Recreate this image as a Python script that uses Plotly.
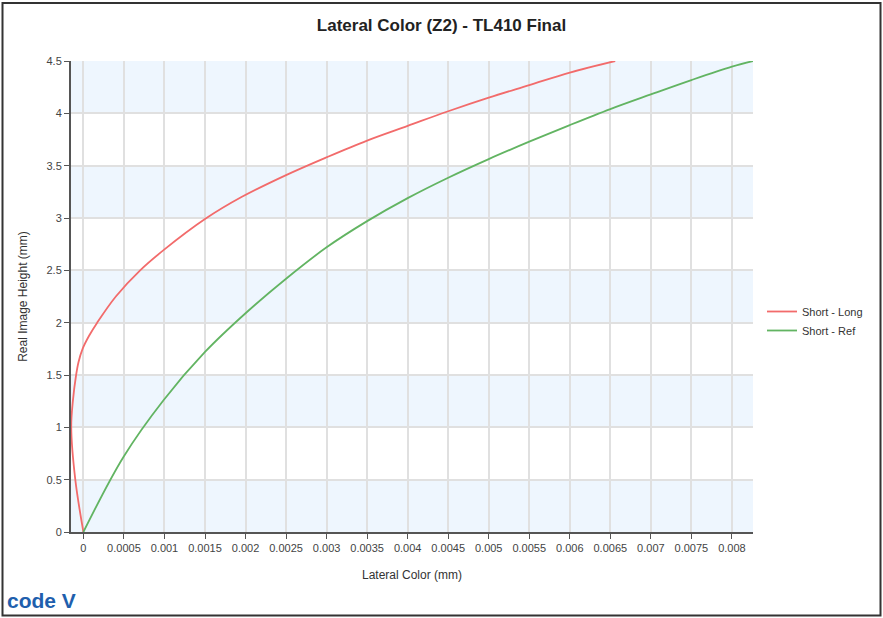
import plotly.graph_objects as go

# ---- data ----
short_long_x = [0, -0.0001, -0.00015, -0.00013, -0.00009, -0.00006, -0.00001, 0.00007, 0.00017,
                0.0004, 0.0007, 0.001, 0.0015, 0.00195, 0.0025, 0.003, 0.0035, 0.004, 0.0045,
                0.005, 0.0055, 0.006, 0.00656]
short_long_y = [0, 0.5, 1.0, 1.25, 1.5, 1.625, 1.75, 1.875, 2.0,
                2.25, 2.5, 2.7, 2.99, 3.2, 3.41, 3.58, 3.74, 3.88, 4.02,
                4.15, 4.27, 4.39, 4.5]

short_ref_x = [0, 0.000494, 0.000988, 0.0015, 0.002, 0.0025, 0.003, 0.0035, 0.004, 0.0045,
               0.005, 0.0055, 0.006, 0.0065, 0.007, 0.0075, 0.008, 0.00826]
short_ref_y = [0, 0.717, 1.259, 1.72, 2.09, 2.42, 2.72, 2.97, 3.19, 3.385,
               3.563, 3.729, 3.888, 4.041, 4.181, 4.318, 4.446, 4.5]

x_tickvals = [0, 0.0005, 0.001, 0.0015, 0.002, 0.0025, 0.003, 0.0035, 0.004, 0.0045,
              0.005, 0.0055, 0.006, 0.0065, 0.007, 0.0075, 0.008]
x_ticktext = ["0", "0.0005", "0.001", "0.0015", "0.002", "0.0025", "0.003", "0.0035", "0.004",
              "0.0045", "0.005", "0.0055", "0.006", "0.0065", "0.007", "0.0075", "0.008"]
y_tickvals = [0, 0.5, 1, 1.5, 2, 2.5, 3, 3.5, 4, 4.5]
y_ticktext = ["0", "0.5", "1", "1.5", "2", "2.5", "3", "3.5", "4", "4.5"]
band_starts = [0, 1, 2, 3, 4]

X_RANGE = [-0.000153, 0.00826]
Y_RANGE = [0, 4.5]

W, H = 898, 618
ML, MR, MT, MB = 71, 145, 61, 86

fig = go.Figure()
fig.add_trace(go.Scatter(x=short_long_x, y=short_long_y, mode="lines", name="Short - Long",
                         line=dict(color="#F26B6B", width=1.8, shape="spline", smoothing=1.0)))
fig.add_trace(go.Scatter(x=short_ref_x, y=short_ref_y, mode="lines", name="Short - Ref",
                         line=dict(color="#62B462", width=1.8, shape="spline", smoothing=1.0)))

shapes = []
for b in band_starts:
    shapes.append(dict(type="rect", xref="x", yref="y", x0=X_RANGE[0], x1=X_RANGE[1],
                       y0=b, y1=b + 0.5, fillcolor="#EEF6FE", line=dict(width=0), layer="below"))

pw = W - ML - MR
ph = H - MT - MB
def px2paper_x(p):
    return (p - ML) / pw
def py2paper_y(p):
    return (H - MB - p) / ph

# outer frame
shapes.append(dict(type="rect", xref="paper", yref="paper",
                   x0=px2paper_x(2.5), x1=px2paper_x(880.5),
                   y0=py2paper_y(615.5), y1=py2paper_y(3),
                   line=dict(color="#333333", width=2), fillcolor="rgba(0,0,0,0)", layer="above"))

fig.update_layout(
    width=W, height=H, autosize=False,
    margin=dict(l=ML, r=MR, t=MT, b=MB),
    paper_bgcolor="white", plot_bgcolor="rgba(0,0,0,0)",
    title=dict(text="<b>Lateral Color (Z2) - TL410 Final</b>", x=px2paper_x(441.5), xref="paper",
               xanchor="center", y=1 - 25 / H, yanchor="middle",
               font=dict(family="Liberation Sans, Arial", size=17, color="#222222")),
    font=dict(family="Liberation Sans, Arial", size=11, color="#444444"),
    shapes=shapes,
    showlegend=True,
    legend=dict(x=px2paper_x(762), y=py2paper_y(297), xanchor="left", yanchor="top",
                font=dict(size=11, color="#333333"), bgcolor="rgba(0,0,0,0)",
                itemwidth=30, tracegroupgap=2),
    annotations=[dict(text="<b>code V</b>", xref="paper", yref="paper",
                      x=px2paper_x(5), y=py2paper_y(600), xanchor="left", yanchor="middle",
                      showarrow=False,
                      font=dict(family="Liberation Sans Narrow, Liberation Sans, Arial",
                                size=21, color="#1F5FAD"))],
)

fig.update_xaxes(range=X_RANGE, tickvals=x_tickvals, ticktext=x_ticktext,
                 showgrid=True, gridcolor="#E0E0E0", gridwidth=1.5,
                 showline=True, linecolor="#555555", linewidth=2,
                 ticks="outside", ticklen=5, tickcolor="#555555", tickwidth=1,
                 zeroline=False, tickfont=dict(size=11, color="#444444"),
                 title=dict(text="Lateral Color (mm)", font=dict(size=12, color="#333333"), standoff=17))
fig.update_yaxes(range=Y_RANGE, tickvals=y_tickvals, ticktext=y_ticktext,
                 showgrid=True, gridcolor="#E0E0E0", gridwidth=1.5,
                 showline=True, linecolor="#555555", linewidth=2,
                 ticks="outside", ticklen=5, tickcolor="#555555", tickwidth=1,
                 zeroline=False, tickfont=dict(size=11, color="#444444"),
                 title=dict(text="Real Image Height (mm)", font=dict(size=12, color="#333333"), standoff=16))

post = """
document.documentElement.style.margin='0';
document.documentElement.style.overflow='hidden';
document.body.style.margin='0';
document.body.style.padding='0';
document.body.style.overflow='hidden';
"""

fig.write_html("out.html",
               config={"displayModeBar": False, "responsive": False},
               post_script=post)
